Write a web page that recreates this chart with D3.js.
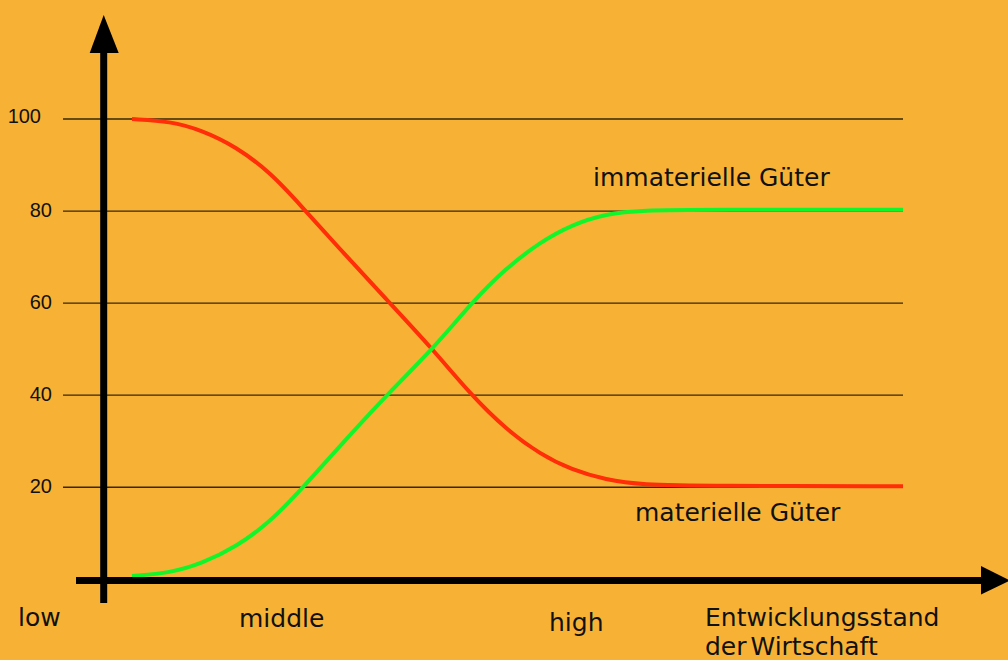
<!DOCTYPE html>
<html>
<head>
<meta charset="utf-8">
<script src="https://cdn.jsdelivr.net/npm/d3@7"></script>
<style>
html,body{margin:0;padding:0;background:#f7b235;}
svg{display:block;}
</style>
</head>
<body>
<svg id="chart" width="1008" height="660"></svg>
<script>
// ---- data ----
const xStops = [0, 5, 9, 13.5, 18, 22, 26.5, 33, 39, 44, 48.5, 53, 57, 61.5, 66, 75, 100];
const immaterielle = [0.7, 1.4, 3.4, 7.0, 12.6, 19.6, 28.1, 40, 50, 60, 67.6, 73.3, 77.0, 79.4, 80.2, 80.3, 80.3];
const materielle   = [100, 99.5, 97.6, 94.0, 88.3, 81.0, 72.6, 60.8, 50, 40, 32.6, 27.1, 23.8, 21.6, 20.5, 20.3, 20.2];
const yTicks = [20, 40, 60, 80, 100];
const levelLabels = ["low", "middle", "high"];
const xAxisTitle = ["Entwicklungsstand", "der Wirtschaft"];
const seriesNames = ["immaterielle Güter", "materielle Güter"];

// ---- layout ----
const W = 1008, H = 660;
const svg = d3.select("#chart");
svg.append("rect").attr("width", W).attr("height", H).attr("fill", "#f7b235");

const x = d3.scaleLinear().domain([0, 100]).range([132, 903]);
const y = d3.scaleLinear().domain([0, 100]).range([579.3, 119]);

const textFont = "'DejaVu Sans', sans-serif";
const tickFont = "'Liberation Sans', Arial, sans-serif";

// gridlines
svg.append("g").selectAll("line").data(yTicks).join("line")
  .attr("x1", 63).attr("x2", x(100))
  .attr("y1", d => y(d)).attr("y2", d => y(d))
  .attr("stroke", "#201808").attr("stroke-opacity", 0.9).attr("stroke-width", 1.3);

// tick labels
svg.append("g").selectAll("text").data(yTicks).join("text")
  .attr("x", d => d === 100 ? 41 : 52)
  .attr("y", d => y(d) + (d === 100 ? 4 : 5.5))
  .attr("text-anchor", "end")
  .attr("font-family", tickFont).attr("font-size", 20).attr("fill", "#111")
  .text(d => d);

// curves
const line = d3.line().x(d => x(d[0])).y(d => y(d[1])).curve(d3.curveBasis);
svg.append("path").datum(xStops.map((v, i) => [v, materielle[i]]))
  .attr("d", line).attr("fill", "none").attr("stroke", "#ff2d08").attr("stroke-width", 4);
svg.append("path").datum(xStops.map((v, i) => [v, immaterielle[i]]))
  .attr("d", line).attr("fill", "none").attr("stroke", "#12f52a").attr("stroke-width", 4);

// axes with arrows
const axisX = 103.7, axisY = 580.5;
svg.append("line").attr("x1", axisX).attr("x2", axisX).attr("y1", 603).attr("y2", 50)
  .attr("stroke", "#000").attr("stroke-width", 7);
svg.append("path").attr("d", `M${axisX - 14},53 L${axisX + 15},53 L${axisX},15 Z`).attr("fill", "#000");
svg.append("line").attr("x1", 76).attr("x2", 984).attr("y1", axisY).attr("y2", axisY)
  .attr("stroke", "#000").attr("stroke-width", 7);
svg.append("path").attr("d", `M981,566 L981,594.5 L1010,${axisY} Z`).attr("fill", "#000");

// series labels
svg.append("text").attr("x", 593).attr("y", 186)
  .attr("font-family", textFont).attr("font-size", 25).attr("fill", "#111").text(seriesNames[0]);
svg.append("text").attr("x", 635).attr("y", 521)
  .attr("font-family", textFont).attr("font-size", 25).attr("fill", "#111").text(seriesNames[1]);

// level labels
const levelPos = [[18, 626], [239, 627], [549, 631]];
svg.append("g").selectAll("text").data(levelLabels).join("text")
  .attr("x", (d, i) => levelPos[i][0]).attr("y", (d, i) => levelPos[i][1])
  .attr("font-family", textFont).attr("font-size", 25).attr("fill", "#111")
  .text(d => d);

// axis title
svg.append("g").selectAll("text").data(xAxisTitle).join("text")
  .attr("x", 705).attr("y", (d, i) => 626 + i * 29)
  .attr("font-family", textFont).attr("font-size", 25).attr("fill", "#111")
  .attr("word-spacing", (d, i) => i === 1 ? -4 : 0)
  .text(d => d);
</script>
</body>
</html>
